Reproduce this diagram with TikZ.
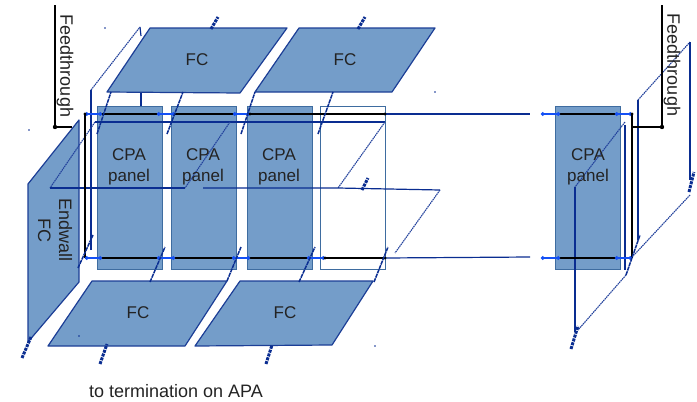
\documentclass[tikz,border=0pt]{standalone}
\usepackage{fontspec}
\setmainfont{Liberation Sans}
\usetikzlibrary{arrows.meta}
\definecolor{fcblue}{RGB}{116,157,201}
\definecolor{fcedge}{RGB}{28,62,150}
\definecolor{paneledge}{RGB}{62,108,160}
\definecolor{wireblue}{RGB}{10,45,145}
\definecolor{railblue}{RGB}{20,80,245}
\definecolor{labelgrey}{RGB}{35,35,35}
\begin{document}
\begin{tikzpicture}[x=1pt,y=-1pt,
  fc/.style={draw=fcedge,fill=fcblue,line width=1.2pt,line join=round},
  panel/.style={rectangle,draw=paneledge,fill=fcblue,line width=0.9pt,inner sep=0pt,
    minimum width=65pt,minimum height=163pt},
  hollow/.style={panel,fill=none},
  frame/.style={draw=wireblue,line width=1.2pt},
  slant/.style={draw=wireblue!90,line width=1.1pt,dash pattern=on 1.5pt off 0.7pt},
  tick/.style={draw=wireblue,line width=1.5pt,dash pattern=on 4pt off 0.7pt},
  stub/.style={draw=wireblue,line width=3pt,dash pattern=on 3pt off 1pt},
  rail/.style={draw=black,line width=1.3pt},
  jump/.style={draw=railblue,line width=1.3pt,{Circle[length=3.5pt]}-{Circle[length=3.5pt]}},
  lbl/.style={font=\fontsize{17}{21}\selectfont,text=labelgrey,align=center,inner sep=0pt},
  longlbl/.style={lbl,font=\fontsize{18}{21}\selectfont},
  speck/.style={circle,fill=wireblue,inner sep=0pt,minimum size=1.8pt}
]
\useasboundingbox (0,0) rectangle (697,402);
% panels
\node[panel] (cpaa) at (129.5,187.5) {};
\node[panel] (cpab) at (203.5,187.5) {};
\node[panel] (cpac) at (279.5,187.5) {};
\node[hollow] (cpad) at (353,187.5) {};
\node[panel] (cpae) at (587.5,187.5) {};
% field cages
\draw[fc] (150,28) -- (287,28) -- (240,93) -- (107,92) -- cycle;
\draw[fc] (299,28) -- (435,28) -- (392,92) -- (255,92) -- cycle;
\draw[fc] (92,281) -- (227,281) -- (185,346) -- (48,346) -- cycle;
\draw[fc] (240,281) -- (373,281) -- (332,345) -- (195,346) -- cycle;
\draw[fc] (28,184) -- (79,120) -- (79,282) -- (28,342) -- cycle;
% rail points
\coordinate (tl) at (85,114);
\coordinate (bl) at (85,258);
\coordinate (tm) at (385,114);
\coordinate (bm) at (385,258);
\coordinate (tr) at (632,114);
\coordinate (br) at (632,258);
\coordinate (ftl) at (55,127);
\coordinate (ftr) at (662,127);
% wire frames
\draw[frame] (91,250) -- (91,90);
\draw[slant] (91,90) -- (140,27);
\draw[frame] (140,27) -- (141,36);
\draw[frame] (141,93) -- (141,106);
\draw[frame] (95,122) -- (385,122);
\draw[slant] (95,122) -- (50,188);
\draw[slant] (230,122) -- (185,188);
\draw[slant] (385,122) -- (338,188);
\draw[frame] (50,188) -- (185,188);
\draw[frame] (203,188) -- (338,188) -- (440,190);
\draw[slant] (440,190) -- (395,253);
\draw[frame] (625,125) -- (625,270);
\draw[slant] (625,122) -- (575,187);
\draw[frame] (575,187) -- (575,332);
\draw[slant] (626,275) -- (578,330);
\draw[frame] (638,100) -- (638,240);
\draw[slant] (638,100) -- (690,42);
\draw[frame] (690,42) -- (690,180);
\draw[slant] (690,195) -- (634,255);
% long runs
\draw[frame] (tm) -- (530,114);
\draw[frame] (bm) -- (530,257);
% rails
\draw[rail] (tl) -- (tm);
\draw[rail] (bl) -- (bm);
\draw[rail] (558,114) -- (tr);
\draw[rail] (558,258) -- (br);
\draw[rail] (tl) -- (bl);
\draw[rail] (tr) -- (br);
\draw[rail] (55,5) -- (ftl) -- (72,127);
\draw[rail] (662,5) -- (ftr) -- (632,127);
% bright jumpers
\draw[jump] (85,114) -- (102,114);
\draw[jump] (157,114) -- (175,114);
\draw[jump] (233,114) -- (250,114);
\draw[jump] (541,114) -- (560,114);
\draw[jump] (615,114) -- (632,114);
\draw[jump] (85,258) -- (102,258);
\draw[jump] (157,258) -- (175,258);
\draw[jump] (232,258) -- (250,258);
\draw[jump] (307,258) -- (325,258);
\draw[jump] (541,258) -- (560,258);
\draw[jump] (615,258) -- (632,258);
\fill (ftl) circle (2.2pt);
\fill (ftr) circle (2.2pt);
\fill (tl) circle (1.7pt);
\fill (tm) circle (1.7pt);
\fill (tr) circle (1.7pt);
\fill (bm) circle (1.7pt);
\fill (250,114) circle (1.7pt);
\fill (325,258) circle (1.7pt);
% short ties
\draw[tick] (97,134) -- (111,92);
\draw[tick] (167,134) -- (183,92);
\draw[tick] (241,134) -- (255,92);
\draw[tick] (318,134) -- (333,92);
\draw[tick] (150,282) -- (165,247);
\draw[tick] (227,281) -- (241,247);
\draw[tick] (299,282) -- (315,247);
\draw[tick] (374,282) -- (388,247);
\draw[tick] (78,268) -- (93,235);
\draw[tick] (626,275) -- (640,235);
% stubs
\draw[stub] (211,29) -- (218,17);
\draw[stub] (358,29) -- (365,17);
\draw[stub] (362,190) -- (368,178);
\draw[stub] (100,364) -- (107,344);
\draw[stub] (266,364) -- (272,345);
\draw[stub] (22,358) -- (31,337);
\draw[stub] (571,349) -- (578,326);
\draw[stub] (689,192) -- (694,172);
% stray specks
\node[speck] (specka) at (105,28) {};
\node[speck] (speckb) at (29,130) {};
\node[speck] (speckc) at (79,336) {};
\node[speck] (speckd) at (435,92) {};
\node[speck] (specke) at (375,346) {};
% labels
\node[lbl] (fca) at (197,60) {FC};
\node[lbl] (fcb) at (345,60) {FC};
\node[lbl] (fcc) at (138,313) {FC};
\node[lbl] (fcd) at (285,313) {FC};
\node[lbl] (cpaatext) at (129,167) {CPA\\panel};
\node[lbl] (cpabtext) at (203,167) {CPA\\panel};
\node[lbl] (cpactext) at (279,167) {CPA\\panel};
\node[lbl] (cpaetext) at (588,167) {CPA\\panel};
\node[longlbl,rotate=-90] (ftltext) at (65,66) {Feedthrough};
\node[longlbl,rotate=-90] (ftrtext) at (672,65) {Feedthrough};
\node[longlbl,rotate=-90] (endtext) at (55,230) {Endwall\\FC};
\node[longlbl] (apatext) at (176,391) {to termination on APA};
\end{tikzpicture}
\end{document}
